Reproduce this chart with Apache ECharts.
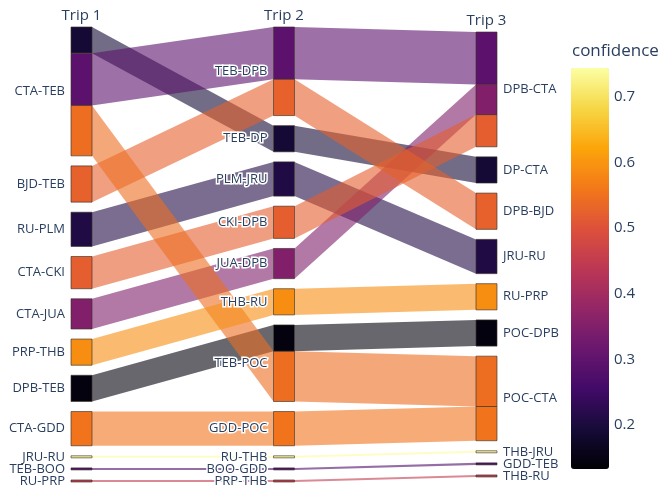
<!DOCTYPE html>
<html>
<head>
<meta charset="utf-8">
<script src="https://cdn.jsdelivr.net/npm/echarts@6/dist/echarts.min.js"></script>
<style>html,body{margin:0;padding:0;background:#fff;}#chart{width:665px;height:486px;}</style>
</head>
<body>
<div id="chart"></div>
<script>
// ---- data ----
const dimNames = ['Trip 1', 'Trip 2', 'Trip 3'];
const trip1Order = ['CTA-TEB','BJD-TEB','RU-PLM','CTA-CKI','CTA-JUA','PRP-THB','DPB-TEB','CTA-GDD','JRU-RU','TEB-BOO','RU-PRP'];
const trip2Order = ['TEB-DPB','TEB-DP','PLM-JRU','CKI-DPB','JUA-DPB','THB-RU','TEB-POC','GDD-POC','RU-THB','BOO-GDD','PRP-THB'];
const trip3Order = ['DPB-CTA','DP-CTA','DPB-BJD','JRU-RU','RU-PRP','POC-DPB','POC-CTA','THB-JRU','GDD-TEB','THB-RU'];
const trip1 = ['CTA-TEB','CTA-TEB','CTA-TEB','BJD-TEB','RU-PLM','CTA-CKI','CTA-JUA','PRP-THB','DPB-TEB','CTA-GDD','JRU-RU','TEB-BOO','RU-PRP'];
const trip2 = ['TEB-DP','TEB-DPB','TEB-POC','TEB-DPB','PLM-JRU','CKI-DPB','JUA-DPB','THB-RU','TEB-POC','GDD-POC','RU-THB','BOO-GDD','PRP-THB'];
const trip3 = ['DP-CTA','DPB-CTA','POC-CTA','DPB-BJD','JRU-RU','DPB-CTA','DPB-CTA','RU-PRP','POC-DPB','POC-CTA','THB-JRU','GDD-TEB','THB-RU'];
const counts = [13, 26, 25, 18, 17, 16, 15, 13, 13, 17, 1, 1, 1];
const confidence = [0.19, 0.295, 0.545, 0.525, 0.21, 0.52, 0.35, 0.59, 0.145, 0.555, 0.74, 0.27, 0.45];
const colorbarTicks = [0.2, 0.3, 0.4, 0.5, 0.6, 0.7];
const confMin = 0.133, confMax = 0.744;

// ---- layout (in count units) ----
const GAP = 5;
const orders = [trip1Order, trip2Order, trip3Order];
const pathCats = [trip1, trip2, trip3];
const total = counts.reduce((a, b) => a + b, 0);
const maxSpan = Math.max(...orders.map(o => total + (o.length - 1) * GAP));
const seg = orders.map(() => []);   // seg[d][p] = [y0, y1]
const catInfo = [];                 // [dim, center, name]
const dimTop = [];
orders.forEach((order, d) => {
  const span = total + (order.length - 1) * GAP;
  let y = (maxSpan - span) / 2;
  dimTop.push(y);
  order.forEach(cat => {
    const ps = [];
    for (let p = 0; p < counts.length; p++) if (pathCats[d][p] === cat) ps.push(p);
    ps.sort((a, b) => confidence[a] - confidence[b]);
    const start = y;
    ps.forEach(p => { seg[d][p] = [y, y + counts[p]]; y += counts[p]; });
    catInfo.push([d, (start + y) / 2, cat]);
    y += GAP;
  });
});

const bandData = [];
for (let p = 0; p < counts.length; p++) {
  for (let d = 0; d < 2; d++) {
    bandData.push([confidence[p], d, seg[d][p][0], seg[d][p][1], seg[d + 1][p][0], seg[d + 1][p][1]]);
  }
}
bandData.sort((a, b) => a[0] - b[0]);
const barData = [];
for (let d = 0; d < 3; d++) for (let p = 0; p < counts.length; p++) barData.push([confidence[p], d, seg[d][p][0], seg[d][p][1]]);
const titleData = dimNames.map((n, d) => [d, dimTop[d], n]);

const BARW = 21;
const FONT = '"Open Sans", sans-serif';
const TXT = '#2a3f5f';

const chart = echarts.init(document.getElementById('chart'));
chart.setOption({
  animation: false,
  grid: [
    { left: 71, top: 27, width: 405, height: 455 },
    { left: 571, top: 68, width: 38, height: 401 }
  ],
  xAxis: [
    { type: 'value', min: 0, max: 2, show: false, gridIndex: 0 },
    { type: 'value', min: 0, max: 1, show: false, gridIndex: 1 }
  ],
  yAxis: [
    { type: 'value', min: 0, max: maxSpan, inverse: true, show: false, gridIndex: 0 },
    { type: 'value', min: confMin, max: confMax, gridIndex: 1, position: 'right',
      axisLine: { show: false }, axisTick: { show: false }, splitLine: { show: false },
      axisLabel: { customValues: colorbarTicks, formatter: v => v.toFixed(1), color: TXT, fontSize: 15, fontFamily: FONT, margin: 5 } }
  ],
  visualMap: {
    type: 'continuous', min: confMin, max: confMax, dimension: 0, seriesIndex: [0, 1],
    left: 571, top: 68, itemWidth: 38, itemHeight: 401, padding: 0, calculable: false,
    text: null, hoverLink: false,
    inRange: { color: ['#000004','#160b39','#420a68','#6a176e','#932667','#bc3754','#dd513a','#f37819','#fca50a','#f6d746','#fcffa4'] }
  },
  graphic: [{ type: 'text', left: 572, top: 43, style: { text: 'confidence', fill: TXT, font: '17px ' + FONT } }],
  series: [
    {
      type: 'custom', xAxisIndex: 0, yAxisIndex: 0, encode: { x: 1, y: 2 }, data: bandData,
      renderItem: (params, api) => {
        const d = api.value(1);
        const a0 = api.coord([d, api.value(2)]), a1 = api.coord([d, api.value(3)]);
        const b0 = api.coord([d + 1, api.value(4)]), b1 = api.coord([d + 1, api.value(5)]);
        const xl = a0[0] + BARW, xr = b0[0];
        return { type: 'polygon', shape: { points: [[xl, a0[1]], [xr, b0[1]], [xr, b1[1]], [xl, a1[1]]] },
          style: { fill: api.visual('color'), opacity: 0.6 } };
      }
    },
    {
      type: 'custom', xAxisIndex: 0, yAxisIndex: 0, encode: { x: 1, y: 2 }, data: barData,
      renderItem: (params, api) => {
        const d = api.value(1);
        const p0 = api.coord([d, api.value(2)]), p1 = api.coord([d, api.value(3)]);
        return { type: 'rect', shape: { x: p0[0], y: p0[1], width: BARW, height: p1[1] - p0[1] },
          style: { fill: api.visual('color'), stroke: 'rgba(60,50,40,0.65)', lineWidth: 1 } };
      }
    },
    {
      type: 'custom', xAxisIndex: 0, yAxisIndex: 0, encode: { x: 0, y: 1 }, data: catInfo, z: 5,
      renderItem: (params, api) => {
        const d = api.value(0);
        const p = api.coord([d, api.value(1)]);
        const name = catInfo[params.dataIndex][2];
        const last = d === 2;
        return { type: 'text', x: last ? p[0] + BARW + 6 : p[0] - 6, y: p[1],
          style: { text: name, fill: TXT, font: '13px ' + FONT, align: last ? 'left' : 'right', verticalAlign: 'middle',
            stroke: d === 1 ? '#fff' : null, lineWidth: d === 1 ? 3 : 0 } };
      }
    },
    {
      type: 'custom', xAxisIndex: 0, yAxisIndex: 0, encode: { x: 0, y: 1 }, data: titleData, z: 5,
      renderItem: (params, api) => {
        const d = api.value(0);
        const p = api.coord([d, api.value(1)]);
        return { type: 'text', x: p[0] + BARW / 2, y: p[1] - 11,
          style: { text: titleData[params.dataIndex][2], fill: TXT, font: '15px ' + FONT, align: 'center', verticalAlign: 'middle' } };
      }
    }
  ]
});
</script>
</body>
</html>
